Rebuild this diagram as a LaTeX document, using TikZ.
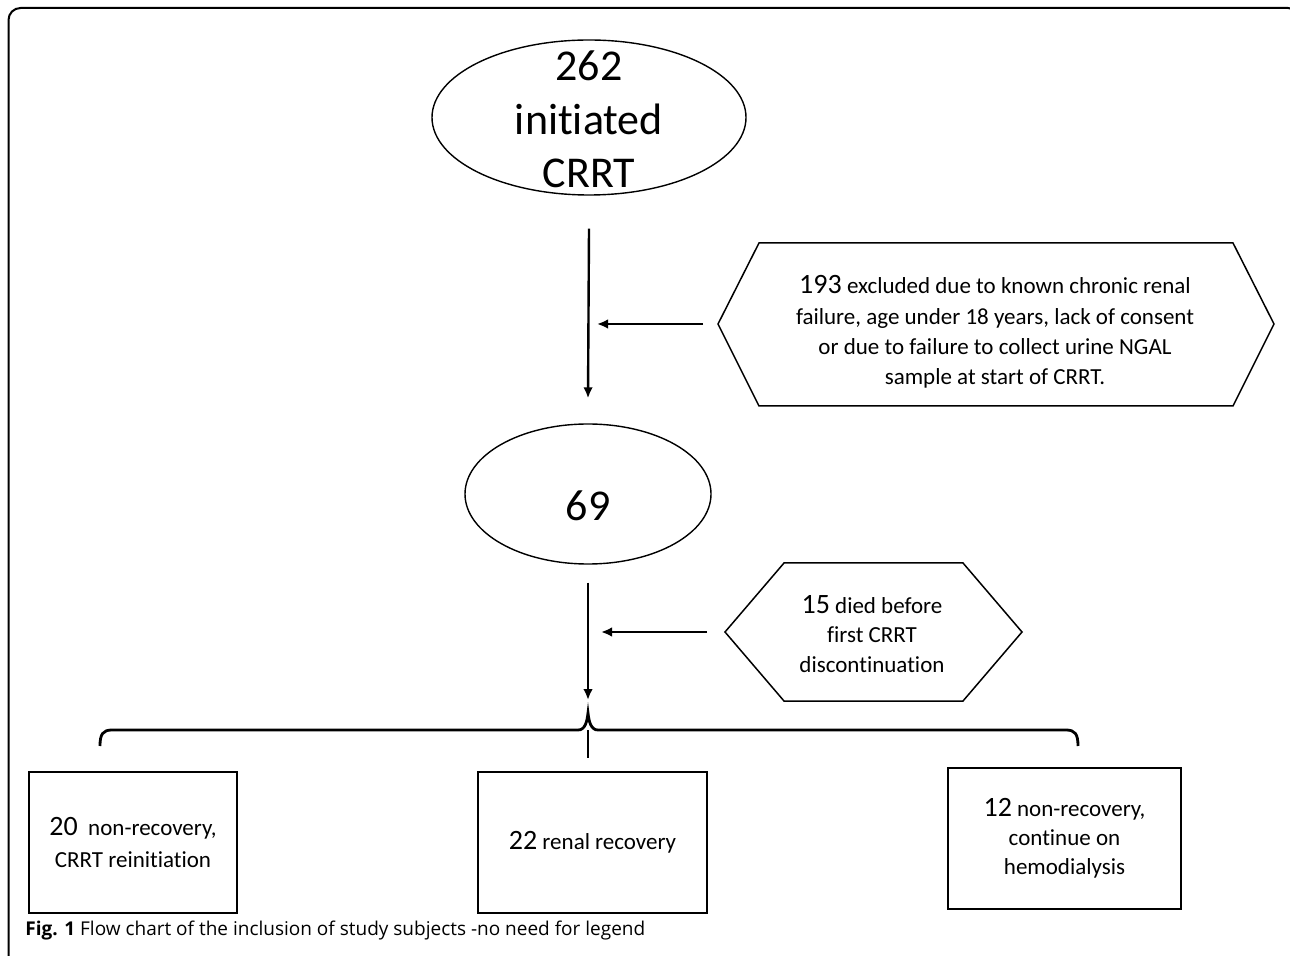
\documentclass[tikz,border=0pt]{standalone}
\usepackage{fontspec}
\setmainfont{Carlito}[Ligatures={NoCommon}]
\newfontfamily\capfont{Open Sans}
\usetikzlibrary{shapes.geometric,arrows.meta}
\newcommand{\countnum}[1]{{\fontsize{14}{14}\selectfont #1}}
\tikzset{
  oval/.style={draw, ellipse, line width=0.7pt, inner sep=0pt},
  bigtxt/.style={font=\fontsize{22}{26.75}\selectfont, align=center},
  hexline/.style={line width=0.75pt, line join=miter},
  outcome/.style={draw, line width=1pt, inner sep=0pt, align=center},
  flow/.style={line width=1.2pt, -{Latex[length=5.5pt,width=4.8pt]}},
}
\begin{document}
\begin{tikzpicture}[x=0.5pt, y=-0.5pt]
    \useasboundingbox (0,0) rectangle (1290,956);
    \draw[line width=1pt, rounded corners=6pt] (8.5,970) -- (8.5,8) -- (1300,8) -- (1300,970);

    \node[oval, minimum width=157pt, minimum height=77.5pt] (start) at (589,117.5) {};
    \node[bigtxt] (startlbl) at (589,119.5) {262\\initiated\\CRRT};

    \node[oval, minimum width=123pt, minimum height=70pt] (kept) at (588,494) {};
    \node[bigtxt] (keptlbl) at (588,506) {69};

    \node[align=center, font=\fontsize{11.5}{15.2}\selectfont] (excl) at (995,332)
        {\countnum{193} excluded due to known chronic renal\\failure, age under 18 years, lack of consent\\or due to failure to collect urine NGAL\\sample at start of CRRT.};
    \draw[hexline] (718,324) -- (759,243) -- (1233,243) -- (1274,324) -- (1233,406) -- (759,406) -- cycle;
    \coordinate (excltip) at (718,324);

    \node[align=center, font=\fontsize{11.5}{14.75}\selectfont] (died) at (872,634)
        {\countnum{15} died before\\first CRRT\\discontinuation};
    \draw[hexline] (725,632) -- (784,563) -- (963,563) -- (1022,632) -- (963,701) -- (784,701) -- cycle;
    \coordinate (diedtip) at (725,632);

    \coordinate (trunka) at (597,324);
    \coordinate (trunkb) at (601,632);
    \coordinate (fork) at (588,730);

    \draw[flow] ([yshift=-16.5pt]start.south) -- ([yshift=12.5pt]kept.north);
    \draw[flow] ([xshift=-7.5pt]excltip) -- (trunka);
    \draw[flow] ([yshift=-9pt]kept.south) -- ([yshift=15pt]fork);
    \draw[flow] ([xshift=-9pt]diedtip) -- (trunkb);

    % brace over the three outcomes
    \draw[line width=1.4pt] (100,746) .. controls (100,734) and (103,730) .. (112,730) -- (578,730)
        .. controls (585,730) and (587,722) .. (588,713) .. controls (589,722) and (591,730) .. (598,730)
        -- (1066,730) .. controls (1075,730) and (1078,734) .. (1078,746);
    \draw[line width=1.4pt] (fork) -- (588,758);

    \node[outcome, minimum width=104pt, minimum height=70.5pt, font=\fontsize{11.5}{16}\selectfont] (reinit) at (133,842.5)
        {\countnum{20}\ \ non-recovery,\\CRRT reinitiation};
    \node[outcome, minimum width=114.5pt, minimum height=70.5pt, font=\fontsize{11.5}{14.5}\selectfont] (recov) at (592.5,842.5)
        {\countnum{22} renal recovery};
    \node[outcome, minimum width=116.5pt, minimum height=70.5pt, font=\fontsize{11.5}{14.5}\selectfont] (dialysis) at (1064.5,838.5)
        {\countnum{12} non-recovery,\\continue on\\hemodialysis};

    \node[anchor=base west, inner sep=0pt, font=\capfont\fontsize{9.5}{11}\selectfont] (caption) at (25,935)
        {\textbf{Fig. 1} Flow chart of the inclusion of study subjects -no need for legend};
\end{tikzpicture}
\end{document}
